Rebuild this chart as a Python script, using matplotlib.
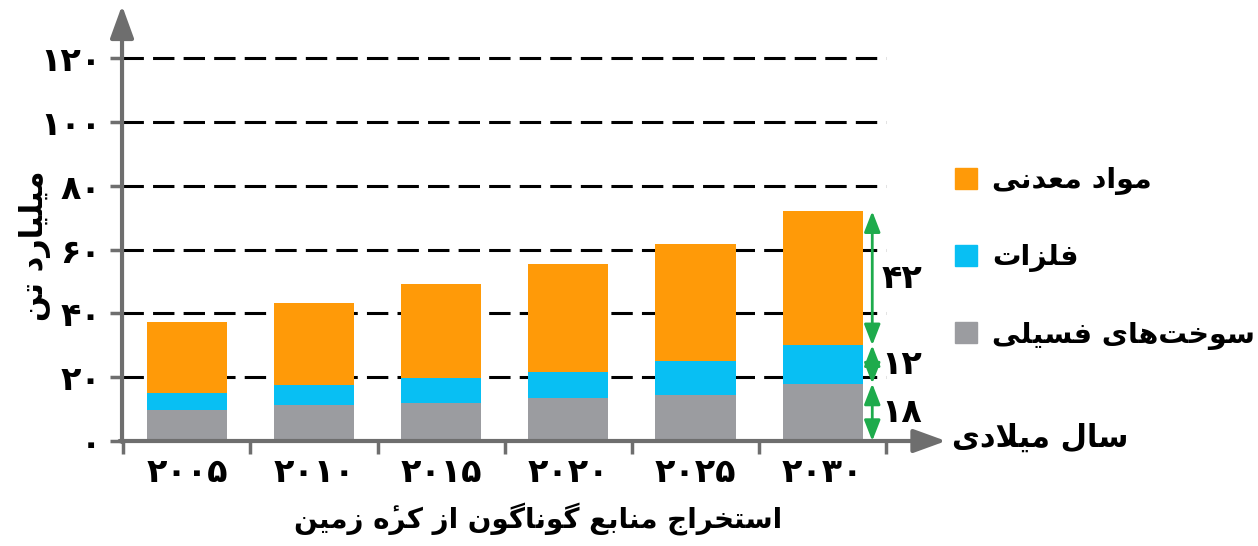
import numpy as np
import matplotlib
matplotlib.use("Agg")
import matplotlib.pyplot as plt
from matplotlib.patches import Patch

# Extraction of resources (billion tonnes)
years = [2005, 2010, 2015, 2020, 2025, 2030]
fossil = [9.6, 11.2, 12.0, 13.4, 14.5, 18]
metals = [5.4, 6.3, 7.6, 8.1, 10.5, 12]
minerals = [22.3, 25.8, 29.5, 34.0, 36.8, 42]
y_ticks = [0, 20, 40, 60, 80, 100, 120]

lbl_minerals = "مواد معدنی"
lbl_metals = "فلزات"
lbl_fossil = "سوخت\u200cهای فسیلی"
lbl_year = "سال میلادی"
lbl_title = "استخراج منابع گوناگون از کره\u0654 زمین"
lbl_unit = "میلیارد تن"

C_MIN = "#ff9a08"
C_MET = "#08bff3"
C_FOS = "#9b9ca0"
C_AXIS = "#6e6e6e"
C_GREEN = "#1eab4c"

# Arabic presentation forms: isolated, final, initial, medial
FORMS = {
    "ا": ("\uFE8D", "\uFE8E", None, None),
    "آ": ("\uFE81", "\uFE82", None, None),
    "ب": ("\uFE8F", "\uFE90", "\uFE91", "\uFE92"),
    "ت": ("\uFE95", "\uFE96", "\uFE97", "\uFE98"),
    "ج": ("\uFE9D", "\uFE9E", "\uFE9F", "\uFEA0"),
    "خ": ("\uFEA5", "\uFEA6", "\uFEA7", "\uFEA8"),
    "د": ("\uFEA9", "\uFEAA", None, None),
    "ر": ("\uFEAD", "\uFEAE", None, None),
    "ز": ("\uFEAF", "\uFEB0", None, None),
    "س": ("\uFEB1", "\uFEB2", "\uFEB3", "\uFEB4"),
    "ع": ("\uFEC9", "\uFECA", "\uFECB", "\uFECC"),
    "ف": ("\uFED1", "\uFED2", "\uFED3", "\uFED4"),
    "ک": ("\uFB8E", "\uFB8F", "\uFB90", "\uFB91"),
    "گ": ("\uFB92", "\uFB93", "\uFB94", "\uFB95"),
    "ل": ("\uFEDD", "\uFEDE", "\uFEDF", "\uFEE0"),
    "م": ("\uFEE1", "\uFEE2", "\uFEE3", "\uFEE4"),
    "ن": ("\uFEE5", "\uFEE6", "\uFEE7", "\uFEE8"),
    "ه": ("\uFEE9", "\uFEEA", "\uFEEB", "\uFEEC"),
    "و": ("\uFEED", "\uFEEE", None, None),
    "ی": ("\uFBFC", "\uFBFD", "\uFBFE", "\uFBFF"),
}
MARKS = {"\u0654"}


def joins_left(c):
    return c in FORMS and FORMS[c][2] is not None


def fa(text):
    # shape letters and put them in visual (left-to-right) order
    out = []
    i = 0
    n = len(text)
    while i < n:
        c = text[i]
        if c in MARKS:
            # keep the mark to the right of its base letter after reversing
            out.insert(len(out) - 1, c)
            i += 1
            continue
        if c not in FORMS:
            if c != "\u200c":
                out.append(c)
            i += 1
            continue
        prev = text[i - 1] if i > 0 else ""
        link_prev = joins_left(prev)
        if c == "ل" and i + 1 < n and text[i + 1] == "ا":
            out.append("\uFEFC" if link_prev else "\uFEFB")
            i += 2
            continue
        nxt = text[i + 1] if i + 1 < n else ""
        link_next = joins_left(c) and nxt in FORMS
        iso, fin, ini, med = FORMS[c]
        if link_prev and link_next:
            out.append(med)
        elif link_prev:
            out.append(fin)
        elif link_next:
            out.append(ini)
        else:
            out.append(iso)
        i += 1
    return "".join(reversed(out))


def fa_num(v):
    return str(v).translate(str.maketrans("0123456789", "۰۱۲۳۴۵۶۷۸۹"))


plt.rcParams["font.family"] = ["DejaVu Sans"]

fig = plt.figure(figsize=(12.58, 5.46), dpi=100)
ax = fig.add_axes([0.097, 0.1923, 0.655, 0.789])

x = np.arange(len(years))
fossil = np.array(fossil)
metals = np.array(metals)
minerals = np.array(minerals)

ax.hlines(y_ticks[1:], -0.51, 5.5, colors="black", linestyles=(0, (7, 3)),
          lw=2.2, zorder=1)

w = 0.63
ax.bar(x, fossil, w, color=C_FOS, zorder=2)
ax.bar(x, metals, w, bottom=fossil, color=C_MET, zorder=2)
ax.bar(x, minerals, w, bottom=fossil + metals, color=C_MIN, zorder=2)

ax.set_xlim(-0.51, 5.97)
ax.set_ylim(0, 135)
for s in ax.spines.values():
    s.set_visible(False)

# axis lines with arrow heads
arrow = dict(arrowstyle="-|>,head_length=1.1,head_width=0.4", color=C_AXIS,
             lw=3, shrinkA=0, shrinkB=0, mutation_scale=18)
ax.annotate("", xy=(-0.51, 136.5), xytext=(-0.51, -0.3), arrowprops=arrow,
            annotation_clip=False, zorder=3)
ax.annotate("", xy=(5.97, 0), xytext=(-0.53, 0), arrowprops=arrow,
            annotation_clip=False, zorder=3)

ax.set_yticks(y_ticks, [fa_num(v) for v in y_ticks])
ax.tick_params(axis="y", length=9, width=2.5, color=C_AXIS, pad=6,
               labelsize=24)
ax.set_xticks(x, [fa_num(v) for v in years])
ax.set_xticks(np.arange(-0.5, 6.0, 1.0), minor=True)
ax.tick_params(axis="x", which="major", length=0, pad=11, labelsize=24)
ax.tick_params(axis="x", which="minor", length=9, width=2.5, color=C_AXIS)
for t in ax.get_xticklabels() + ax.get_yticklabels():
    t.set_fontweight("bold")

# breakdown of the 2030 bar
xa = 5.39
b0 = 0
for seg in [fossil[-1], metals[-1], minerals[-1]]:
    ax.annotate("", xy=(xa, b0 + seg), xytext=(xa, b0),
                arrowprops=dict(arrowstyle="<|-|>,head_length=0.9,head_width=0.35",
                                color=C_GREEN, lw=2, shrinkA=0, shrinkB=0,
                                mutation_scale=14), zorder=4)
    ax.text(5.46, b0 + seg / 2, fa_num(int(seg)), fontsize=24,
            fontweight="bold", ha="left", va="center")
    b0 += seg

handles = [Patch(color=C_MIN, label=fa(lbl_minerals)),
           Patch(color=C_MET, label=fa(lbl_metals)),
           Patch(color=C_FOS, label=fa(lbl_fossil))]
fig.legend(handles=handles, loc="upper left", bbox_to_anchor=(0.748, 0.722),
           frameon=False, handlelength=0.75, handleheight=0.75,
           handletextpad=0.55, labelspacing=1.7, borderpad=0,
           prop={"size": 20.5, "weight": "bold"})

fig.text(0.757, 0.198, fa(lbl_year), fontsize=22, fontweight="bold",
         ha="left", va="center")
fig.text(0.428, 0.05, fa(lbl_title), fontsize=20, fontweight="bold",
         ha="center", va="center")
fig.text(0.028, 0.55, fa(lbl_unit), fontsize=22, fontweight="bold",
         rotation=90, ha="center", va="center")

fig.savefig("out.png", dpi=100)
